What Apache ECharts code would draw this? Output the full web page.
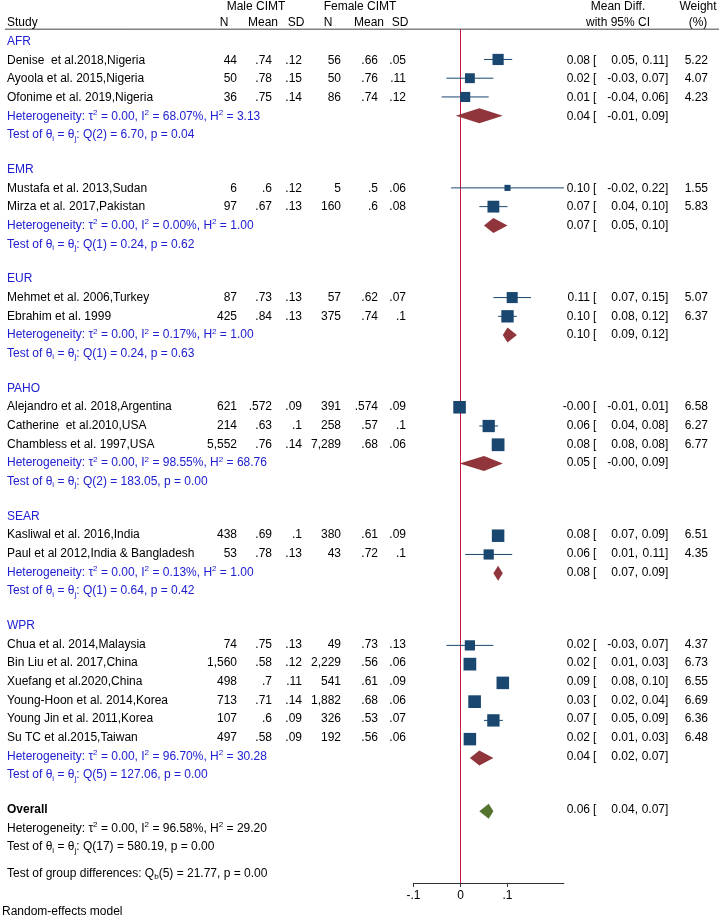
<!DOCTYPE html>
<html><head><meta charset="utf-8">
<script src="https://cdn.jsdelivr.net/npm/echarts@6/dist/echarts.min.js"></script>
<style>html,body{margin:0;padding:0;background:#fff}#c{width:724px;height:919px}</style>
</head><body><div id="c"></div><script>
// ---------------- data ----------------
const groups = ['AFR', 'EMR', 'EUR', 'PAHO', 'SEAR', 'WPR'];
const studyGroup = [0, 0, 0, 1, 1, 2, 2, 3, 3, 3, 4, 4, 5, 5, 5, 5, 5, 5];
const studies = [
  'Denise  et al.2018,Nigeria', 'Ayoola et al. 2015,Nigeria', 'Ofonime et al. 2019,Nigeria',
  'Mustafa et al. 2013,Sudan', 'Mirza et al. 2017,Pakistan',
  'Mehmet et al. 2006,Turkey', 'Ebrahim et al. 1999',
  'Alejandro et al. 2018,Argentina', 'Catherine  et al.2010,USA', 'Chambless et al. 1997,USA',
  'Kasliwal et al. 2016,India', 'Paul et al 2012,India & Bangladesh',
  'Chua et al. 2014,Malaysia', 'Bin Liu et al. 2017,China', 'Xuefang et al.2020,China',
  'Young-Hoon et al. 2014,Korea', 'Young Jin et al. 2011,Korea', 'Su TC et al.2015,Taiwan'
];
const maleN = [44, 50, 36, 6, 97, 87, 425, 621, 214, 5552, 438, 53, 74, 1560, 498, 713, 107, 497];
const maleMean = [0.74, 0.78, 0.75, 0.6, 0.67, 0.73, 0.84, 0.572, 0.63, 0.76, 0.69, 0.78, 0.75, 0.58, 0.7, 0.71, 0.6, 0.58];
const maleSD = [0.12, 0.15, 0.14, 0.12, 0.13, 0.13, 0.13, 0.09, 0.1, 0.14, 0.1, 0.13, 0.13, 0.12, 0.11, 0.14, 0.09, 0.09];
const femaleN = [56, 50, 86, 5, 160, 57, 375, 391, 258, 7289, 380, 43, 49, 2229, 541, 1882, 326, 192];
const femaleMean = [0.66, 0.76, 0.74, 0.5, 0.6, 0.62, 0.74, 0.574, 0.57, 0.68, 0.61, 0.72, 0.73, 0.56, 0.61, 0.68, 0.53, 0.56];
const femaleSD = [0.05, 0.11, 0.12, 0.06, 0.08, 0.07, 0.1, 0.09, 0.1, 0.06, 0.09, 0.1, 0.13, 0.06, 0.09, 0.06, 0.07, 0.06];
const effect = [0.08, 0.02, 0.01, 0.10, 0.07, 0.11, 0.10, -0.002, 0.06, 0.08, 0.08, 0.06, 0.02, 0.02, 0.09, 0.03, 0.07, 0.02];
const ciLow = [0.05, -0.03, -0.04, -0.02, 0.04, 0.07, 0.08, -0.01, 0.04, 0.08, 0.07, 0.01, -0.03, 0.01, 0.08, 0.02, 0.05, 0.01];
const ciHigh = [0.11, 0.07, 0.06, 0.22, 0.10, 0.15, 0.12, 0.01, 0.08, 0.08, 0.09, 0.11, 0.07, 0.03, 0.10, 0.04, 0.09, 0.03];
const weight = [5.22, 4.07, 4.23, 1.55, 5.83, 5.07, 6.37, 6.58, 6.27, 6.77, 6.51, 4.35, 4.37, 6.73, 6.55, 6.69, 6.36, 6.48];

const groupEffect = [0.04, 0.07, 0.10, 0.05, 0.08, 0.04];
const groupLow = [-0.01, 0.05, 0.09, -0.002, 0.07, 0.02];
const groupHigh = [0.09, 0.10, 0.12, 0.09, 0.09, 0.07];
const groupTau2 = [0, 0, 0, 0, 0, 0];
const groupI2 = [68.07, 0.00, 0.17, 98.55, 0.13, 96.70];
const groupH2 = [3.13, 1.00, 1.00, 68.76, 1.00, 30.28];
const groupQ = [6.70, 0.24, 0.24, 183.05, 0.64, 127.06];
const groupDf = [2, 1, 1, 2, 1, 5];
const groupP = [0.04, 0.62, 0.63, 0.00, 0.42, 0.00];

const overallEffect = [0.06, 0.04, 0.07]; // estimate, low, high
const overallStats = [0.00, 96.58, 29.20, 580.19, 17, 0.00]; // tau2, I2, H2, Q, df, p
const groupDiff = [21.77, 5, 0.00]; // Qb, df, p

const xTicks = [-0.1, 0, 0.1];
const xTickLabels = ['-.1', '0', '.1'];

// ---------------- layout ----------------
const FONT = '"Liberation Sans", Arial, Helvetica, sans-serif';
const BLUE = '#2020d2', BLACK = '#000000', NAVY = '#1a476f', MAROON = '#90353b', GREEN = '#55752f', RED = '#c8193c';
const GAP = 1.85;
const groupRow = [], hetRow = [], testRow = [], studyRow = [];
let r = 0;
groups.forEach((g, gi) => {
  groupRow[gi] = r; r += 1;
  studyGroup.forEach((sg, si) => { if (sg === gi) { studyRow[si] = r; r += 1; } });
  hetRow[gi] = r; r += 1;
  testRow[gi] = r; r += GAP;
});
const overallRow = r, overallHetRow = r + 1, overallTestRow = r + 2;
const groupDiffRow = r + 3.4, modelRow = r + 5.45;
const headRow1 = -1.85, headRow2 = -1.01, ruleRow = -0.61;

const fmtN = v => v.toLocaleString('en-US');
const fmtM = v => String(v).replace(/^0\./, '.');
const f2 = v => v.toFixed(2);

const textItems = []; // [x, row, text, align, style]
function T(x, row, text, align, style) { textItems.push([x, row, text, align, style || 'k']); }
function effectText(row, es, lo, hi, w) {
  T(590, row, f2(es), 'right');
  T(593, row, '[', 'left');
  T(638, row, f2(lo) + ',', 'right');
  T(665, row, f2(hi), 'right');
  T(665, row, ']', 'left');
  if (w !== undefined) T(708, row, f2(w), 'right');
}
// header
T(256, headRow1, 'Male CIMT', 'center');
T(360, headRow1, 'Female CIMT', 'center');
T(618, headRow1, 'Mean Diff.', 'center');
T(698, headRow1, 'Weight', 'center');
T(7, headRow2, 'Study', 'left');
T(224, headRow2, 'N', 'center');
T(263, headRow2, 'Mean', 'center');
T(296, headRow2, 'SD', 'center');
T(328, headRow2, 'N', 'center');
T(369, headRow2, 'Mean', 'center');
T(400, headRow2, 'SD', 'center');
T(618, headRow2, 'with 95% CI', 'center');
T(698, headRow2, '(%)', 'center');
// groups
groups.forEach((g, gi) => {
  T(7, groupRow[gi], g, 'left', 'b');
  T(7, hetRow[gi], 'Heterogeneity: τ{sup|2} = ' + f2(groupTau2[gi]) + ', I{sup|2} = ' + f2(groupI2[gi]) + '%, H{sup|2} = ' + f2(groupH2[gi]), 'left', 'b');
  T(7, testRow[gi], 'Test of θ{sub|i} = θ{sub|j}: Q(' + groupDf[gi] + ') = ' + f2(groupQ[gi]) + ', p = ' + f2(groupP[gi]), 'left', 'b');
  effectText(hetRow[gi], groupEffect[gi], groupLow[gi], groupHigh[gi]);
});
studies.forEach((s, i) => {
  const row = studyRow[i];
  T(7, row, s, 'left');
  T(237, row, fmtN(maleN[i]), 'right');
  T(272, row, fmtM(maleMean[i]), 'right');
  T(302, row, fmtM(maleSD[i]), 'right');
  T(341, row, fmtN(femaleN[i]), 'right');
  T(378, row, fmtM(femaleMean[i]), 'right');
  T(406, row, fmtM(femaleSD[i]), 'right');
  effectText(row, effect[i], ciLow[i], ciHigh[i], weight[i]);
});
T(7, overallRow, 'Overall', 'left', 'kb');
effectText(overallRow, overallEffect[0], overallEffect[1], overallEffect[2]);
T(7, overallHetRow, 'Heterogeneity: τ{sup|2} = ' + f2(overallStats[0]) + ', I{sup|2} = ' + f2(overallStats[1]) + '%, H{sup|2} = ' + f2(overallStats[2]), 'left');
T(7, overallTestRow, 'Test of θ{sub|i} = θ{sub|j}: Q(' + overallStats[4] + ') = ' + f2(overallStats[3]) + ', p = ' + f2(overallStats[5]), 'left');
T(7, groupDiffRow, 'Test of group differences: Q{sub|b}(' + groupDiff[1] + ') = ' + f2(groupDiff[0]) + ', p = ' + f2(groupDiff[2]), 'left');
T(2, modelRow, 'Random-effects model', 'left');

const RICH = {
  sup: { fontSize: 8, lineHeight: 8, fontFamily: FONT, verticalAlign: 'top' },
  sub: { fontSize: 8, lineHeight: 8, fontFamily: FONT, verticalAlign: 'bottom' }
};
const STYLE_COLOR = { k: BLACK, b: BLUE, kb: BLACK };

const chart = echarts.init(document.getElementById('c'), null, { renderer: 'canvas' });
const yMin = -2, yMaxPlot = 44.92, yMaxText = 47, ROWPX = 18.75, TOP = 3.2;

chart.setOption({
  animation: false,
  backgroundColor: '#fff',
  grid: [
    { left: 413.5, width: 150.4, top: TOP, height: (yMaxPlot - yMin) * ROWPX },
    { left: 0, right: 0, top: TOP, height: (yMaxText - yMin) * ROWPX }
  ],
  xAxis: [
    {
      gridIndex: 0, type: 'value', min: -0.1, max: 0.22, interval: 0.1,
      axisLine: { show: true, onZero: false, lineStyle: { color: '#333', width: 1 } },
      axisTick: { show: true, length: 4, customValues: xTicks, lineStyle: { color: '#333' } },
      axisLabel: {
        customValues: xTicks, margin: 7, fontSize: 12, color: '#000', fontFamily: FONT,
        formatter: v => { const k = xTicks.findIndex(t => Math.abs(t - v) < 1e-9); return k >= 0 ? xTickLabels[k] : ''; }
      },
      splitLine: { show: false }
    },
    { gridIndex: 1, type: 'value', min: 0, max: 724, show: false }
  ],
  yAxis: [
    { gridIndex: 0, type: 'value', inverse: true, min: yMin, max: yMaxPlot, show: false },
    { gridIndex: 1, type: 'value', inverse: true, min: yMin, max: yMaxText, show: false }
  ],
  series: [
    { // header rule
      type: 'line', xAxisIndex: 1, yAxisIndex: 1, silent: true, symbol: 'none',
      data: [[5, ruleRow], [719, ruleRow]], lineStyle: { color: '#444', width: 1 }
    },
    { // no-effect line
      type: 'line', xAxisIndex: 0, yAxisIndex: 0, silent: true, symbol: 'none', z: 1,
      data: [[0, ruleRow], [0, yMaxPlot]], lineStyle: { color: RED, width: 1 }
    },
    { // studies: CI + square
      type: 'custom', xAxisIndex: 0, yAxisIndex: 0, silent: true, z: 3,
      data: studies.map((s, i) => [effect[i], ciLow[i], ciHigh[i], weight[i], studyRow[i]]),
      encode: { x: [0, 1, 2], y: 4 },
      renderItem: (params, api) => {
        const row = api.value(4);
        const c = api.coord([api.value(0), row]);
        const l = api.coord([api.value(1), row]);
        const h = api.coord([api.value(2), row]);
        const s = 4.9 * Math.sqrt(api.value(3));
        return {
          type: 'group', children: [
            { type: 'line', shape: { x1: l[0], y1: c[1], x2: h[0], y2: c[1] }, style: { stroke: NAVY, lineWidth: 1 } },
            { type: 'rect', shape: { x: c[0] - s / 2, y: c[1] - s / 2, width: s, height: s }, style: { fill: NAVY } }
          ]
        };
      }
    },
    { // diamonds
      type: 'custom', xAxisIndex: 0, yAxisIndex: 0, silent: true, z: 3,
      data: groups.map((g, gi) => [groupEffect[gi], groupLow[gi], groupHigh[gi], hetRow[gi], 0])
        .concat([[overallEffect[0], overallEffect[1], overallEffect[2], overallRow, 1]]),
      encode: { x: [0, 1, 2], y: 3 },
      renderItem: (params, api) => {
        const row = api.value(3);
        const c = api.coord([api.value(0), row]);
        const l = api.coord([api.value(1), row]);
        const h = api.coord([api.value(2), row]);
        const hh = 7.5;
        return {
          type: 'polygon',
          shape: { points: [[l[0], c[1]], [c[0], c[1] - hh], [h[0], c[1]], [c[0], c[1] + hh]] },
          style: { fill: api.value(4) === 1 ? GREEN : MAROON }
        };
      }
    },
    { // texts
      type: 'custom', xAxisIndex: 1, yAxisIndex: 1, silent: true, z: 4,
      data: textItems.map(t => [t[0], t[1]]),
      encode: { x: 0, y: 1 },
      renderItem: (params, api) => {
        const it = textItems[params.dataIndex];
        const p = api.coord([api.value(0), api.value(1)]);
        return {
          type: 'text', x: p[0], y: p[1] + 1,
          style: {
            text: it[2], fill: STYLE_COLOR[it[4]],
            fontSize: 12, fontFamily: FONT, fontWeight: it[4] === 'kb' ? 'bold' : 'normal',
            align: it[3], verticalAlign: 'middle', textAlign: it[3], textVerticalAlign: 'middle',
            lineHeight: 15, rich: RICH
          }
        };
      }
    }
  ]
});
</script></body></html>
